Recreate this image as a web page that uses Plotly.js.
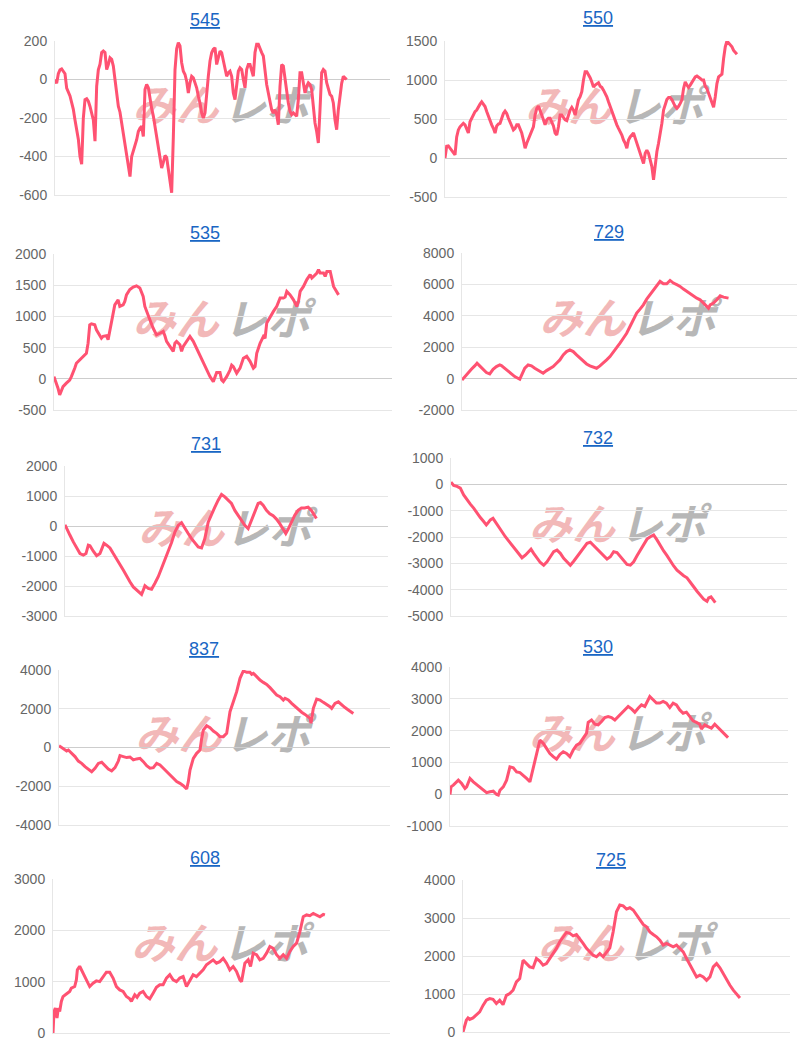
<!DOCTYPE html>
<html>
<head>
<meta charset="utf-8">
<script src="https://cdn.plot.ly/plotly-3.0.1.min.js"></script>
<style>html,body{margin:0;padding:0;background:#fff}</style>
</head>
<body>
<div id="chart" style="width:800px;height:1048px"></div>
<script>
// machine numbers, used as panel titles
const names = ['545', '550', '535', '729', '731', '732', '837', '530', '608', '725'];

// y axis ticks of each panel
const t545 = [-600, -400, -200, 0, 200];
const t550 = [-500, 0, 500, 1000, 1500];
const t535 = [-500, 0, 500, 1000, 1500, 2000];
const t729 = [-2000, 0, 2000, 4000, 6000, 8000];
const t731 = [-3000, -2000, -1000, 0, 1000, 2000];
const t732 = [-5000, -4000, -3000, -2000, -1000, 0, 1000];
const t837 = [-4000, -2000, 0, 2000, 4000];
const t530 = [-1000, 0, 1000, 2000, 3000, 4000];
const t608 = [0, 1000, 2000, 3000];
const t725 = [0, 1000, 2000, 3000, 4000];

// balance series (545 and 550 are evenly spaced)
const v545 = [0,-20,30,50,55,45,30,-45,-65,-85,-120,-155,-210,-260,-310,-400,-440,-200,-105,-100,
  -113,-140,-175,-210,-320,-35,50,80,140,148,140,52,78,113,105,70,0,-70,-139,-170,
  -230,-290,-348,-390,-450,-504,-400,-374,-348,-313,-270,-252,-243,-296,-52,-26,-43,-104,-150,-190,
  -243,-300,-350,-417,-460,-430,-395,-405,-470,-540,-588,-300,50,160,191,174,87,43,26,-9,
  -70,-17,17,9,-17,-43,-87,-122,-174,-200,-174,-52,17,96,139,157,165,78,122,148,
  139,96,43,17,35,43,17,-70,-104,-26,43,61,52,0,-43,52,78,78,43,17,
  140,183,183,157,140,122,43,-26,-70,-122,-157,-174,-157,-183,-235,-35,78,70,0,-70,
  -122,-165,-183,-174,-183,-191,-104,35,35,-17,-70,-35,-17,-26,-52,-139,-226,-270,-330,-157,
  35,52,43,-17,-52,-78,-87,-122,-209,-261,-157,-87,-20,17,9,0];

const v550 = [0,150,155,125,100,60,40,270,360,400,430,445,425,380,320,465,510,570,595,615,
  660,690,720,690,660,595,530,465,425,380,320,410,435,445,510,570,600,570,510,465,
  425,360,380,425,425,380,320,230,125,190,240,295,340,400,550,635,665,615,550,490,
  425,490,510,510,465,410,320,295,400,550,550,520,490,480,550,615,650,615,550,660,
  745,785,850,1000,1105,1105,1075,1030,975,910,935,955,965,920,905,870,830,785,720,660,
  595,530,480,425,380,340,295,230,190,125,230,270,295,320,255,190,100,60,-25,-70,
  60,100,60,-25,-110,-280,-70,80,190,295,445,615,700,750,775,775,750,700,660,635,
  660,700,745,890,975,935,905,935,975,1020,1040,1050,1040,1020,1000,1000,920,890,830,765,
  700,650,785,955,1040,1060,1075,1275,1425,1500,1475,1445,1425,1380,1350,1330];

const g535 = [163,170,175,180,185,190,200,210,215,220,225,230,240,250,260,265,270,275,285,290,
  300,305,310,320,325,330,335,340,345,355,360,370,375,380,390,400,410,420,430,435,
  440,450,460,470,480,490,495,500,510,520,525,530,540,545,550,560,570,580,590,600,
  610,620,630,640,650,660,665,670,680,690,695,700,710,720,730,740,750,760,765,770,
  780,790,795,800,810,820,830,840,850,855,860,870,880,890,895,900,910,920,930,935,
  940,950,955,960,970,975,980,990,1000,1010,1015];
const v535 = [35,-70,-150,-260,-180,-125,-70,-20,35,90,170,250,300,360,410,570,865,880,865,785,
  690,650,680,690,625,760,865,1050,1185,1265,1160,1185,1240,1345,1430,1470,1490,1455,1320,1160,
  1080,945,810,705,730,760,690,600,520,440,570,600,545,440,520,600,680,600,490,385,
  280,170,35,-45,100,100,-20,-45,35,140,220,195,90,170,330,360,280,170,195,410,
  570,680,650,895,1000,1080,1160,1295,1295,1310,1400,1345,1265,1160,1240,1400,1480,1590,1670,1615,
  1640,1695,1750,1695,1695,1640,1720,1720,1480,1400,1345];

const g729 = [187,195,205,215,225,232,240,250,260,270,280,290,300,305,315,325,335,345,360,365,
  375,385,395,405,415,430,440,450,460,470,480,490,500,510,520,530,540,550,560,570,
  580,590,600,610,620,630,640,650,660,670,680,690,700,710,720,730,740,750,760,770,
  780,790,800,810,820,830,840,850,860,870,880,890,900,910,920,925,930,940,950,960,
  970,980,985];
const v729 = [-85,130,340,595,810,980,810,595,385,300,595,765,870,830,660,445,300,130,-40,235,
  660,870,810,660,510,340,510,660,765,980,1190,1510,1720,1830,1720,1510,1300,1085,935,810,
  720,660,810,980,1190,1400,1660,1935,2255,2570,2890,3320,3745,4170,4425,4700,5060,5340,5660,5870,
  6190,6040,6040,6255,6085,5980,5870,5700,5550,5400,5230,5125,5020,4810,4640,4490,4700,4810,5020,5275,
  5190,5125,5125];

const g731 = [195,200,210,220,230,240,250,258,265,270,280,290,300,305,312,320,330,340,350,360,
  370,380,390,400,410,420,425,430,435,445,455,465,475,485,495,505,515,525,535,545,
  555,565,575,585,595,605,615,625,635,645,655,665,675,685,695,705,715,725,735,745,
  755,765,775,782,790,800,810,820,830,840,850,858,865,875,885,895,905,915,925,935,
  945,950];
const v731 = [40,-90,-310,-530,-750,-920,-970,-920,-640,-660,-840,-990,-920,-750,-580,-640,-730,-920,-1080,-1280,
  -1470,-1690,-1860,-2030,-2140,-2250,-2280,-2140,-1990,-2080,-2110,-1910,-1690,-1410,-1140,-860,-550,-200,20,110,
  -90,-250,-420,-580,-700,-730,-420,130,410,630,860,1050,970,860,750,520,360,190,20,-90,
  190,470,750,780,690,520,410,340,230,80,-90,-250,-110,130,360,520,600,600,630,520,
  360,250];

const g732 = [152,160,170,180,190,200,210,220,230,240,250,258,262,270,278,285,295,305,315,325,
  335,345,355,365,375,385,392,400,410,420,430,440,450,460,470,480,490,500,510,520,
  530,540,550,560,570,580,590,600,610,620,630,640,650,660,670,680,690,700,710,720,
  730,740,750,760,770,780,790,800,810,820,830,840,850,860,870,880,890,900,910,920,
  925,932,940,945];
const v732 = [85,-40,-80,-145,-400,-590,-750,-905,-1100,-1260,-1410,-1540,-1480,-1350,-1290,-1410,-1600,-1800,-1990,-2150,
  -2330,-2500,-2660,-2790,-2690,-2530,-2460,-2620,-2810,-2970,-3070,-2940,-2750,-2560,-2500,-2620,-2810,-2940,-3070,-2920,
  -2750,-2560,-2370,-2240,-2200,-2330,-2430,-2560,-2710,-2840,-2750,-2560,-2590,-2750,-2880,-3040,-3070,-2940,-2710,-2500,
  -2240,-2080,-1990,-1920,-2110,-2330,-2530,-2710,-2920,-3100,-3260,-3380,-3470,-3550,-3700,-3890,-4060,-4210,-4360,-4440,
  -4310,-4270,-4400,-4490];

const g837 = [177,190,200,205,215,225,235,245,255,265,275,285,295,305,315,325,335,345,355,360,
  370,380,390,400,410,420,430,440,450,460,470,480,490,500,510,520,530,540,550,560,
  565,570,580,590,600,605,610,620,630,640,650,660,670,680,685,690,700,710,720,730,
  740,750,755,760,770,780,790,800,810,820,830,840,850,855,865,875,885,895,905,915,
  925,930,933,940,950,960,970,980,990,995,1005,1015,1025,1035,1045,1055,1060];
const v837 = [90,-40,-180,-130,-300,-470,-700,-820,-990,-1110,-1250,-1070,-820,-760,-940,-1110,-1210,-1040,-700,-420,
  -470,-520,-490,-640,-590,-560,-730,-940,-1070,-1040,-820,-900,-1070,-1250,-1420,-1620,-1760,-1850,-1970,-2140,
  -1760,-1160,-560,-300,-130,470,900,1120,1020,850,730,560,560,730,1330,1850,2360,2880,3570,3950,
  3880,3880,3780,3830,3660,3480,3360,3260,3090,2880,2710,2620,2450,2540,2450,2280,2110,1940,1820,1710,
  1590,1510,1250,2020,2500,2450,2330,2230,2110,2020,2280,2360,2190,2060,1940,1820,1760];

const g530 = [150,153,160,170,175,185,195,200,210,220,230,240,250,260,270,280,290,295,300,310,
  320,330,340,350,360,370,380,390,400,410,420,430,440,450,460,470,480,490,500,510,
  520,530,540,550,560,565,575,585,595,605,615,625,635,645,655,665,675,685,695,705,
  715,725,735,745,750,760,770,780,790,800,810,820,830,840,850,860,870,880,890,900,
  905,915,925,935,945,955,965,975,985];
const v530 = [-10,230,285,390,440,335,180,230,495,390,305,230,125,50,75,95,-10,-30,125,230,
  440,860,830,700,680,600,495,390,860,1280,1700,1600,1440,1280,1180,1100,1250,1335,1280,1180,
  1390,1545,1600,1760,1915,2260,2335,2200,2180,2285,2410,2440,2410,2335,2440,2545,2650,2760,2685,2580,
  2705,2810,2760,2970,3070,2970,2865,2865,2915,2865,2725,2865,2810,2650,2545,2580,2440,2305,2260,2200,
  2050,2180,2125,2075,2200,2095,1970,1860,1780];

const g608 = [160,163,167,172,176,180,185,190,200,210,215,225,230,233,240,250,260,270,280,290,
  300,310,320,330,340,350,360,370,380,390,395,405,412,420,430,440,450,460,470,480,
  490,500,510,520,530,540,550,560,570,580,590,600,610,620,630,640,650,660,670,680,
  690,700,710,720,725,735,745,752,760,770,780,790,800,810,820,830,840,850,860,870,
  880,890,900,910,920,930,940,950,960,970,975];
const v608 = [0,420,485,290,485,420,615,710,760,810,875,905,1035,1230,1300,1165,1035,905,970,1015,
  1000,1100,1185,1185,1070,905,840,810,710,665,615,745,695,775,810,710,665,775,890,940,
  940,1070,1135,1035,1000,1070,1100,905,1035,1135,1100,1165,1230,1330,1380,1425,1360,1390,1455,1360,
  1230,1295,1200,1035,1000,1360,1425,1295,1555,1525,1425,1455,1555,1685,1650,1525,1455,1525,1455,1590,
  1685,1750,1975,2265,2300,2285,2330,2300,2265,2310,2300];

const g725 = [190,195,200,205,210,220,230,240,250,260,270,280,290,300,310,320,330,340,350,360,
  370,380,390,400,410,420,430,440,450,460,470,480,490,500,510,520,530,540,550,560,
  570,580,590,600,610,620,630,640,650,660,670,680,690,700,710,720,730,740,750,760,
  770,780,790,800,810,820,830,840,850,860,870,880,890,900,910,920,930,940,950,960,
  970,980,990,1000,1010,1020];
const v725 = [0,175,310,370,330,370,440,530,700,835,880,860,750,835,720,965,1010,1100,1320,1405,
  1890,1800,1715,1690,1935,1865,1760,1800,1935,2065,2200,2375,2505,2620,2595,2530,2565,2460,2330,2200,
  2110,2020,1980,2065,1980,2110,2215,2635,3165,3340,3320,3235,3270,3210,3075,2945,2830,2770,2635,2565,
  2505,2415,2285,2330,2285,2240,2285,2200,2110,1935,1760,1600,1450,1495,1450,1360,1450,1715,1800,1690,
  1540,1360,1230,1100,985,895];

const lineColor = '#ff5272';
const gridColor = '#e6e6e6';
const W = 800, H = 1048;

// box = [left, right, top, bottom] of each plot area on the page
const panels = [
  {x: v545.map((_, i) => i), y: v545, ticks: t545, xr: [0, 201], box: [55, 390, 41, 195], tx: 205, ty: 20},
  {x: v550.map((_, i) => i), y: v550, ticks: t550, xr: [0, 205], box: [445, 787, 41, 197], tx: 598, ty: 18},
  {x: g535, y: v535, ticks: t535, xr: [163, 1175], box: [54, 392, 254, 410], tx: 205, ty: 233},
  {x: g729, y: v729, ticks: t729, xr: [187, 1190], box: [462, 797, 253, 410], tx: 609, ty: 232},
  {x: g731, y: v731, ticks: t731, xr: [195, 1165], box: [65, 388, 466, 616], tx: 206, ty: 444},
  {x: g732, y: v732, ticks: t732, xr: [152, 1160], box: [451, 787, 458, 616], tx: 598, ty: 438},
  {x: g837, y: v837, ticks: t837, xr: [177, 1170], box: [59, 390, 670, 825], tx: 204, ty: 649},
  {x: g530, y: v530, ticks: t530, xr: [150, 1165], box: [450, 788, 667, 826], tx: 598, ty: 647},
  {x: g608, y: v608, ticks: t608, xr: [160, 1170], box: [53, 390, 879, 1033], tx: 205, ty: 858},
  {x: g725, y: v725, ticks: t725, xr: [190, 1170], box: [463, 790, 880, 1032], tx: 611, ty: 860}
];

const data = [];
const annotations = [];
const shapes = [];
const layout = {
  width: W,
  height: H,
  margin: {l: 0, r: 0, t: 0, b: 0},
  paper_bgcolor: '#fff',
  plot_bgcolor: 'rgba(0,0,0,0)',
  showlegend: false,
  hovermode: false,
  font: {family: 'Liberation Sans, Arial, sans-serif', color: '#666'}
};

panels.forEach((p, i) => {
  const s = i === 0 ? '' : String(i + 1);
  data.push({
    type: 'scatter',
    mode: 'lines',
    x: p.x,
    y: p.y,
    xaxis: 'x' + s,
    yaxis: 'y' + s,
    line: {color: lineColor, width: 3}
  });
  layout['xaxis' + s] = {
    domain: [p.box[0] / W, p.box[1] / W],
    range: p.xr,
    anchor: 'y' + s,
    showgrid: false,
    zeroline: false,
    showticklabels: false,
    ticks: '',
    showline: true,
    linecolor: gridColor,
    fixedrange: true
  };
  layout['yaxis' + s] = {
    domain: [1 - p.box[3] / H, 1 - p.box[2] / H],
    range: [p.ticks[0], p.ticks[p.ticks.length - 1]],
    anchor: 'x' + s,
    tickvals: p.ticks,
    ticktext: p.ticks.map(String),
    tickfont: {size: 14, color: '#666'},
    ticks: '',
    ticklabelstandoff: 4,
    gridcolor: gridColor,
    zeroline: true,
    zerolinecolor: '#cdcdcd',
    zerolinewidth: 1,
    showline: true,
    linecolor: gridColor,
    fixedrange: true
  };
  annotations.push({
    xref: 'paper', yref: 'paper',
    x: p.tx / W, y: 1 - p.ty / H,
    xanchor: 'center', yanchor: 'middle',
    text: '<u>' + names[i] + '</u>',
    showarrow: false,
    font: {size: 18, color: '#1a66c4'}
  });
  // "みんレポ" watermark behind the line
  [['みん', '#f2b8b8', 0.23, 0.49], ['レポ', '#b7b7b7', 0.50, 0.76]].forEach(w => {
    shapes.push({
      type: 'rect',
      xref: 'x' + s + ' domain', yref: 'y' + s + ' domain',
      x0: w[2], x1: w[3], y0: 0.40, y1: 0.72,
      line: {width: 0},
      fillcolor: 'rgba(0,0,0,0)',
      layer: 'below',
      label: {
        text: '<b><i>' + w[0] + '</i></b>',
        textposition: 'middle center',
        font: {family: 'Noto Sans CJK JP', size: 43, color: w[1]}
      }
    });
  });
});

layout.annotations = annotations;
layout.shapes = shapes;

Plotly.newPlot('chart', data, layout, {displayModeBar: false, staticPlot: true});
</script>
</body>
</html>
